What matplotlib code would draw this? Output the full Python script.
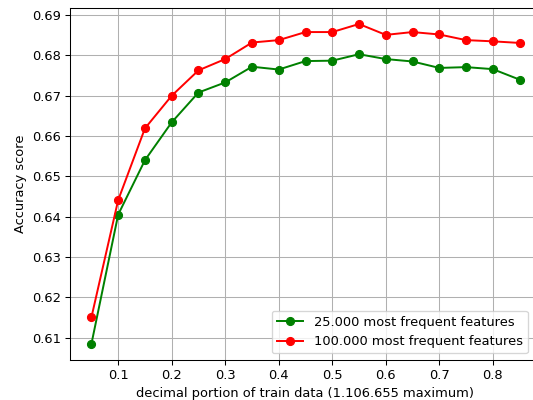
import matplotlib
matplotlib.use("Agg")
import matplotlib.pyplot as plt

# fraction of the training set used
portions = [0.05, 0.1, 0.15, 0.2, 0.25, 0.3, 0.35, 0.4, 0.45, 0.5,
            0.55, 0.6, 0.65, 0.7, 0.75, 0.8, 0.85]

# accuracy with the 25.000 most frequent features
acc_25k = [0.6084, 0.6405, 0.6540, 0.6634, 0.6708, 0.6733, 0.6772, 0.6765, 0.6786,
           0.6787, 0.6803, 0.6791, 0.6785, 0.6769, 0.6771, 0.6766, 0.6740]

# accuracy with the 100.000 most frequent features
acc_100k = [0.6150, 0.6441, 0.6619, 0.6700, 0.6763, 0.6791, 0.6832, 0.6838, 0.6858,
            0.6858, 0.6878, 0.6851, 0.6858, 0.6852, 0.6838, 0.6835, 0.6831]

DPI = 94
fig = plt.figure(figsize=(533 / DPI, 400 / DPI), dpi=DPI)
ax = fig.add_axes([70 / 533, 40 / 400, 471 / 533, 352 / 400])

ax.plot(portions, acc_25k, 'o-', color='green', label='25.000 most frequent features')
ax.plot(portions, acc_100k, 'o-', color='red', label='100.000 most frequent features')

ax.set_xlabel('decimal portion of train data (1.106.655 maximum)')
ax.set_ylabel('Accuracy score')
ax.grid(True)
ax.legend(loc='lower right', bbox_to_anchor=(0.986, 0.0))

fig.savefig('out.png', dpi=DPI)
